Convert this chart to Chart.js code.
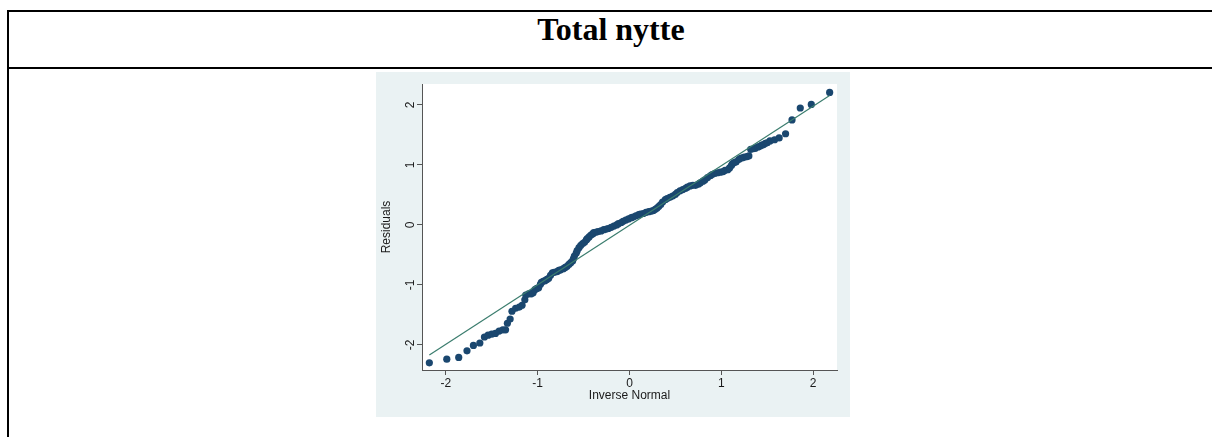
<!DOCTYPE html>
<html>
<head>
<meta charset="utf-8">
<script src="https://cdn.jsdelivr.net/npm/chart.js@4.4.1/dist/chart.umd.min.js"></script>
<style>
  html, body { margin: 0; padding: 0; background: #fff; }
  body { width: 1212px; height: 437px; position: relative; overflow: hidden; }
  .rule { position: absolute; background: #000; }
  .title {
    position: absolute; left: 7px; width: 1208px; top: 13px;
    text-align: center; font: bold 32px/32px "Liberation Serif", "Times New Roman", serif; color: #000;
  }
  .panel { position: absolute; left: 376px; top: 72px; width: 474px; height: 345px; background: #eaf2f3; }
</style>
</head>
<body>
<div class="rule" style="left:7px; top:10px; width:1205px; height:2px;"></div>
<div class="rule" style="left:7px; top:67px; width:1205px; height:2px;"></div>
<div class="rule" style="left:7px; top:10px; width:2px; height:427px;"></div>
<div class="title">Total nytte</div>
<div class="panel"><canvas id="qq" width="474" height="345"></canvas></div>

<script>
// inverse normal quantiles and sorted residuals
const qx = [
  -2.18, -1.99, -1.86, -1.77, -1.70, -1.63, -1.58, -1.54, -1.50, -1.46,
  -1.42, -1.38, -1.35, -1.33, -1.30, -1.28, -1.24, -1.20, -1.17, -1.14,
  -1.13, -1.10, -1.07, -1.05, -1.03, -1.01, -0.99, -0.97, -0.96, -0.94,
  -0.92, -0.90, -0.88, -0.86, -0.84, -0.82, -0.79, -0.77, -0.75, -0.72,
  -0.70, -0.68, -0.66, -0.64, -0.62, -0.61, -0.60, -0.58, -0.57, -0.55,
  -0.53, -0.51, -0.49, -0.47, -0.46, -0.44, -0.42, -0.40, -0.39, -0.36,
  -0.34, -0.31, -0.28, -0.25, -0.23, -0.20, -0.17, -0.14, -0.12, -0.09,
  -0.07, -0.04, -0.01, 0.02, 0.04, 0.07, 0.10, 0.12, 0.15, 0.18,
  0.21, 0.24, 0.26, 0.28, 0.30, 0.32, 0.34, 0.36, 0.39, 0.41,
  0.44, 0.47, 0.50, 0.52, 0.55, 0.58, 0.61, 0.63, 0.66, 0.69,
  0.72, 0.75, 0.77, 0.80, 0.82, 0.85, 0.88, 0.90, 0.93, 0.96,
  0.99, 1.02, 1.04, 1.07, 1.09, 1.11, 1.12, 1.14, 1.16, 1.19,
  1.21, 1.23, 1.25, 1.28, 1.30, 1.32, 1.35, 1.37, 1.40, 1.42,
  1.44, 1.46, 1.48, 1.50, 1.53, 1.58, 1.63, 1.70, 1.77, 1.86,
  1.98, 2.18
];
const residuals = [
  -2.30, -2.24, -2.21, -2.10, -2.01, -1.97, -1.87, -1.84, -1.82, -1.81,
  -1.77, -1.75, -1.75, -1.64, -1.57, -1.44, -1.39, -1.37, -1.34, -1.25,
  -1.17, -1.15, -1.15, -1.13, -1.08, -1.06, -1.05, -0.99, -0.96, -0.94,
  -0.93, -0.91, -0.89, -0.84, -0.80, -0.79, -0.78, -0.76, -0.75, -0.73,
  -0.71, -0.69, -0.66, -0.63, -0.60, -0.56, -0.52, -0.47, -0.43, -0.38,
  -0.34, -0.31, -0.29, -0.25, -0.23, -0.20, -0.17, -0.15, -0.13, -0.12,
  -0.11, -0.10, -0.08, -0.07, -0.06, -0.04, -0.02, 0.00, 0.02, 0.04,
  0.06, 0.08, 0.10, 0.12, 0.13, 0.15, 0.17, 0.18, 0.19, 0.21,
  0.22, 0.23, 0.24, 0.26, 0.28, 0.31, 0.34, 0.38, 0.42, 0.44,
  0.46, 0.48, 0.51, 0.54, 0.57, 0.59, 0.61, 0.63, 0.65, 0.66,
  0.66, 0.68, 0.70, 0.73, 0.75, 0.79, 0.82, 0.84, 0.86, 0.87,
  0.88, 0.89, 0.91, 0.92, 0.95, 0.99, 1.02, 1.04, 1.05, 1.09,
  1.11, 1.12, 1.13, 1.14, 1.15, 1.26, 1.27, 1.28, 1.30, 1.31,
  1.33, 1.34, 1.36, 1.37, 1.40, 1.42, 1.45, 1.52, 1.75, 1.95,
  2.01, 2.21
];

// reference line end points
const refX = [-2.18, 2.18];
const refY = [-2.17, 2.16];

const xTicks = [-2, -1, 0, 1, 2];
const yTicks = [-2, -1, 0, 1, 2];

const FONT = '"Liberation Sans", Arial, sans-serif';
const AXIS = '#555';
const INK = '#1a1a1a';

// white plot region inside the tinted graph region
const plotFill = {
  id: 'plotFill',
  beforeDraw(chart) {
    const a = chart.chartArea;
    const ctx = chart.ctx;
    ctx.save();
    ctx.fillStyle = '#fff';
    ctx.fillRect(a.left, a.top, a.right - a.left, a.bottom - a.top);
    ctx.restore();
  }
};

// y tick labels are drawn turned on their side
const sideLabels = {
  id: 'sideLabels',
  afterDraw(chart) {
    const s = chart.scales.y;
    const ctx = chart.ctx;
    ctx.save();
    ctx.font = '12px ' + FONT;
    ctx.fillStyle = INK;
    ctx.textAlign = 'center';
    ctx.textBaseline = 'middle';
    s.ticks.forEach(t => {
      ctx.save();
      ctx.translate(34.5, s.getPixelForValue(t.value));
      ctx.rotate(-Math.PI / 2);
      ctx.fillText(String(t.value), 0, 0);
      ctx.restore();
    });
    ctx.restore();
  }
};

new Chart(document.getElementById('qq'), {
  type: 'scatter',
  data: {
    datasets: [
      {
        type: 'line',
        data: refX.map((x, i) => ({ x, y: refY[i] })),
        borderColor: '#3b7d6e',
        borderWidth: 1.2,
        pointRadius: 0,
        showLine: true,
        fill: false
      },
      {
        data: qx.map((x, i) => ({ x, y: residuals[i] })),
        backgroundColor: '#1a476f',
        borderWidth: 0,
        pointRadius: 3.6
      }
    ]
  },
  options: {
    responsive: false,
    animation: false,
    devicePixelRatio: 1,
    layout: { padding: { top: 12, right: 13, left: 0, bottom: 0 } },
    plugins: { legend: { display: false }, tooltip: { enabled: false } },
    scales: {
      x: {
        type: 'linear',
        min: -2.26,
        max: 2.26,
        afterFit: s => { s.height = 47; },
        afterBuildTicks: s => { s.ticks = xTicks.map(v => ({ value: v })); },
        grid: { drawOnChartArea: false, drawTicks: true, tickLength: 5, color: AXIS },
        border: { color: AXIS, width: 1 },
        ticks: { font: { family: FONT, size: 12 }, color: INK, padding: 1 },
        title: {
          display: true, text: 'Inverse Normal', color: INK,
          font: { family: FONT, size: 12 }, padding: { top: 0, bottom: 14 }
        }
      },
      y: {
        type: 'linear',
        min: -2.42,
        max: 2.35,
        afterFit: s => { s.width = 46; },
        afterBuildTicks: s => { s.ticks = yTicks.map(v => ({ value: v })); },
        grid: { drawOnChartArea: false, drawTicks: true, tickLength: 5, color: AXIS },
        border: { color: AXIS, width: 1 },
        ticks: { display: false },
        title: {
          display: true, text: 'Residuals', color: INK,
          font: { family: FONT, size: 12 }, padding: { top: 3, bottom: 0 }
        }
      }
    }
  },
  plugins: [plotFill, sideLabels]
});
</script>
</body>
</html>
